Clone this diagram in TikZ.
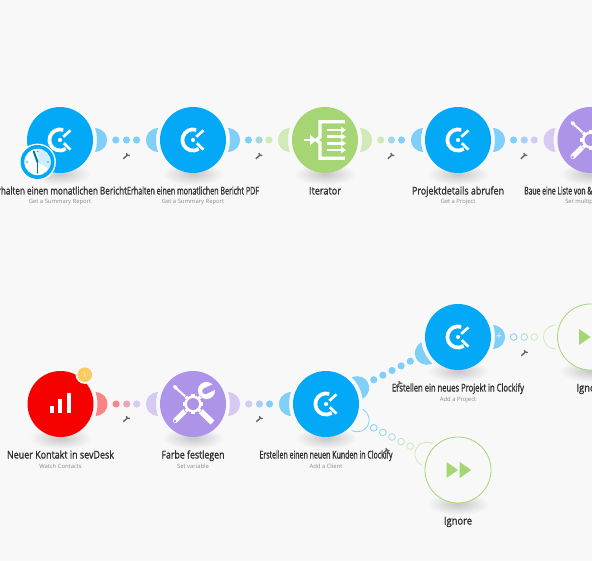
\documentclass[tikz,border=0pt]{standalone}
\usepackage{fontspec}
\setmainfont{Open Sans}
\usetikzlibrary{calc}
\newdimen\pxu \pxu=.75pt
\definecolor{bgc}{HTML}{F8F8F8}
\definecolor{cblue}{HTML}{03A9F6}
\definecolor{hblue}{HTML}{80CFF9}
\definecolor{cpurple}{HTML}{AD94E9}
\definecolor{hpurple}{HTML}{D6CAF3}
\definecolor{cgreen}{HTML}{A6D674}
\definecolor{hgreen}{HTML}{D2E9B9}
\definecolor{cred}{HTML}{F60000}
\definecolor{hred}{HTML}{FA8486}
\definecolor{wrenchc}{HTML}{6A6A6A}
\definecolor{labelc}{HTML}{2E2E2E}
\definecolor{subc}{HTML}{8A8A8A}
\definecolor{badgec}{HTML}{FFCB60}
\newcommand{\lbltxt}[2]{\resizebox{#1\pxu}{\height}{\fontsize{8pt}{9pt}\selectfont\addfontfeatures{FakeBold=1.2}#2}}
\newcommand{\halo}[3]{\begin{scope}[shift={(#1)},rotate=#2]
 \fill[#3] (19:37) .. controls (44,11) and (47,5) .. (47,0) .. controls (47,-5) and (44,-11) .. (-19:37) arc[start angle=-19,end angle=19,radius=37] -- cycle;
\end{scope}}
\newcommand{\halooutline}[3]{\begin{scope}[shift={(#1)},rotate=#2]
 \draw[#3,line width=.6pt] (19:37) .. controls (44,11) and (47,5) .. (47,0) .. controls (47,-5) and (44,-11) .. (-19:37);
\end{scope}}
\newcommand{\shadowat}[1]{\shade[inner color=black!22,outer color=bgc,draw=none] ($(#1)+(0,-34)$) ellipse[x radius=31,y radius=11];}
\tikzset{
 x=.75pt,y=.75pt,
 modnode/.style={circle,minimum size=49.5pt,inner sep=0pt,outer sep=0pt,draw=none},
 linkdot/.style={circle,minimum size=5.4pt,inner sep=0pt,fill=#1},
 ringdot/.style={circle,minimum size=5pt,inner sep=0pt,fill=bgc,draw=#1,line width=.6pt},
 title/.style={inner sep=0pt,text=labelc,anchor=base},
 subtitle/.style={inner sep=0pt,text=subc,font=\fontsize{4.4pt}{5pt}\selectfont,anchor=base},
 clockifyicon/.pic={
  \draw[white,line width=2.8pt] (72:10.6) arc[start angle=72,end angle=303,radius=10.6];
  \draw[white,line width=2pt] (3.2,3.2) -- (10.5,9.6);
  \draw[white,line width=2pt] (3.8,-3.2) -- (10.5,-9.6);
  \fill[white] (0,0) circle[radius=2.1];
 },
 toolsicon/.pic={
  % screwdriver: thin blade with tip at upper left, flat handle at lower right
  \draw[white,line width=1.5pt] (-6,6) -- (-16,15);
  \draw[white,line width=2.6pt,line cap=round] (-16.5,15.5) -- (-18.5,17.5);
  \draw[white,line width=4.2pt] (7,-6.5) -- (19.5,-18.5);
  % wrench: open head at upper right, round handle at lower left
  \draw[white,line width=3.8pt,line cap=round] (-7,-6) -- (-17.5,-16.5);
  \fill[cpurple] (-18,-17) circle[radius=1.3];
  \draw[white,line width=3pt] (5,5) -- (11,11);
  \fill[white] (13.5,13.5) circle[radius=8.6];
  \begin{scope}[shift={(13.5,13.5)},rotate=25]
   \fill[cpurple] (-1.5,-3) rectangle (10,3);
   \fill[cpurple] (-1.5,0) circle[radius=3];
  \end{scope}
  % gear
  \fill[cpurple] (0,0) circle[radius=11];
  \fill[white] (0,0) circle[radius=8.6];
  \foreach \a in {0,45,...,315}{\fill[white,rotate=\a] (-1.7,7) rectangle (1.7,10.4);}
  \fill[cpurple] (0,0) circle[radius=6];
 },
 iteratoricon/.pic={
  \draw[white,line width=2.5pt] (20,18.3) -- (-5,18.3) -- (-5,3) -- (-8.5,0) -- (-5,-3) -- (-5,-18.3) -- (20,-18.3);
  \foreach \yy in {10,3.3,-3.3,-10}{
   \draw[white,line width=2.2pt] (2,\yy) -- (18,\yy);
   \fill[white] (16,\yy+3.3) -- (21,\yy) -- (16,\yy-3.3) -- cycle;
  }
  \draw[white,line width=2pt] (-21,0) -- (-13,0);
  \fill[white] (-15,5.5) -- (-9,0) -- (-15,-5.5) -- cycle;
 },
 sevdeskicon/.pic={
  \fill[white] (-10.7,-9.3) rectangle (-6.7,-1.7);
  \fill[white] (-2.7,-9.3) rectangle (1.3,5);
  \fill[white] (6.3,-9.3) rectangle (10.3,11);
 },
 ignoreicon/.pic={
  \fill[cgreen] (-11.5,8) -- (0,0) -- (-11.5,-8) -- cycle;
  \fill[cgreen] (1.7,8) -- (13.2,0) -- (1.7,-8) -- cycle;
 },
 wrenchicon/.pic={
  \draw[wrenchc,line width=1.1pt] (-3.2,-2.8) -- (1.4,1.4);
  \draw[wrenchc,line width=1pt] (0,3) arc[start angle=170,end angle=300,radius=2.2];
 },
 timericon/.pic={
  \fill[white] (0,0) circle[radius=18.4];
  \fill[cblue] (0,0) circle[radius=17];
  \fill[white] (0,0) circle[radius=13.2];
  \fill[cblue!20] (0,0) -- (0,13.2) arc[start angle=90,end angle=-30,radius=13.2] -- cycle;
  \foreach \a in {0,90,180,270}{\fill[cblue] (\a:10.5) circle[radius=.9];}
  \draw[cblue!70!black,line width=1.5pt,line cap=round] (0,0) -- (-3.8,10.5);
  \draw[cblue!70!black,line width=.7pt,line cap=round] (0,0) -- (0,-11);
 },
}
\begin{document}
\begin{tikzpicture}
\useasboundingbox (0,0) rectangle (592,561);
\fill[bgc] (0,0) rectangle (592,561);
% centre coordinates
\coordinate (pa) at (60,421);
\coordinate (pb) at (193,421);
\coordinate (pc) at (325,421);
\coordinate (pd) at (458,421);
\coordinate (pe) at (590.5,421);
\coordinate (pf) at (60.5,157);
\coordinate (pg) at (193,157);
\coordinate (ph) at (326,157);
\coordinate (pi) at (458,224);
\coordinate (pj) at (590.5,224);
\coordinate (pk) at (458,91);
\foreach \p in {pa,pb,pc,pd,pe,pf,pg,ph,pi,pj,pk}{\shadowat{\p}}
% modules
\node[modnode,fill=cblue] (a) at (pa) {};
\node[modnode,fill=cblue] (b) at (pb) {};
\node[modnode,fill=cgreen] (c) at (pc) {};
\node[modnode,fill=cblue] (d) at (pd) {};
\node[modnode,fill=cpurple] (e) at (pe) {};
\node[modnode,fill=cred] (f) at (pf) {};
\node[modnode,fill=cpurple] (g) at (pg) {};
\node[modnode,fill=cblue] (h) at (ph) {};
\node[modnode,fill=cblue] (i) at (pi) {};
\node[modnode,fill=bgc,draw=cgreen,line width=.6pt] (j) at (pj) {};
\node[modnode,fill=bgc,draw=cgreen,line width=.6pt] (k) at (pk) {};
% halos
\halo{a}{0}{hblue}\halo{b}{180}{hblue}
\halo{b}{0}{hblue}\halo{c}{180}{hgreen}
\halo{c}{0}{hgreen}\halo{d}{180}{hblue}
\halo{d}{0}{hblue}\halo{e}{180}{hpurple}
\halo{f}{0}{hred}\halo{g}{180}{hpurple}
\halo{g}{0}{hpurple}\halo{h}{180}{hblue}
\halo{h}{27}{hblue}\halo{i}{207}{hblue}
\halo{i}{0}{hblue}
\halooutline{j}{180}{hgreen}
\halooutline{h}{-27}{hblue}
\halooutline{k}{153}{hgreen}
\node[font=\fontsize{7pt}{8pt}\selectfont\bfseries,text=white!70!hblue,inner sep=0pt] (plus) at ($(i)+(41,0)$) {+};
% connectors
\path (a) -- node[pos=.34,linkdot=hblue]{} node[pos=.5,linkdot=hblue]{} node[pos=.65,linkdot=hblue]{} (b);
\path (b) -- node[pos=.34,linkdot=hblue]{} node[pos=.5,linkdot=hblue!60!hgreen]{} node[pos=.65,linkdot=hgreen]{} (c);
\path (c) -- node[pos=.34,linkdot=hgreen]{} node[pos=.5,linkdot=hblue!60!hgreen]{} node[pos=.65,linkdot=hblue]{} (d);
\path (d) -- node[pos=.34,linkdot=hblue]{} node[pos=.5,linkdot=hblue!50!hpurple]{} node[pos=.65,linkdot=hpurple]{} (e);
\path (f) -- node[pos=.34,linkdot=hred]{} node[pos=.5,linkdot=hred!50!hpurple]{} node[pos=.65,linkdot=hpurple]{} (g);
\path (g) -- node[pos=.34,linkdot=hpurple]{} node[pos=.5,linkdot=hblue!50!hpurple]{} node[pos=.65,linkdot=hblue]{} (h);
\path (h) -- node[pos=.25,linkdot=hblue]{} node[pos=.375,linkdot=hblue]{} node[pos=.5,linkdot=hblue]{} node[pos=.625,linkdot=hblue]{} node[pos=.75,linkdot=hblue]{} (i);
\path (i) -- node[pos=.34,ringdot=hblue]{} node[pos=.5,ringdot=hblue!50!hgreen]{} node[pos=.65,ringdot=hgreen]{} (j);
\path (h) -- node[pos=.25,ringdot=hblue]{} node[pos=.375,ringdot=hblue!75!hgreen]{} node[pos=.5,ringdot=hblue!50!hgreen]{} node[pos=.625,ringdot=hblue!25!hgreen]{} node[pos=.75,ringdot=hgreen]{} (k);
% icons
\pic at (a) {clockifyicon};
\pic at (b) {clockifyicon};
\pic at (c) {iteratoricon};
\pic at (d) {clockifyicon};
\pic at (e) {toolsicon};
\pic at (f) {sevdeskicon};
\pic at (g) {toolsicon};
\pic at (h) {clockifyicon};
\pic at (i) {clockifyicon};
\pic at (j) {ignoreicon};
\pic at (k) {ignoreicon};
\pic at ($(a)+(-22.5,-22)$) {timericon};
% badge
\fill[bgc] ($(f)+(24.3,29.3)$) circle[radius=9.2];
\node[circle,fill=badgec,minimum size=11pt,inner sep=0pt,text=white,font=\fontsize{5pt}{6pt}\selectfont] (badge) at ($(f)+(24.3,29.3)$) {1};
% labels
\node[title] (ta) at ($(a)+(0,-54.5)$) {\lbltxt{134}{Erhalten einen monatlichen Bericht}};
\node[title] (tb) at ($(b)+(0,-54.5)$) {\lbltxt{132}{Erhalten einen monatlichen Bericht PDF}};
\node[title] (tc) at ($(c)+(0,-54.5)$) {\lbltxt{32}{Iterator}};
\node[title] (td) at ($(d)+(0,-54.5)$) {\lbltxt{92}{Projektdetails abrufen}};
\node[title,anchor=base west] (te) at (524,366.5) {\lbltxt{68}{Baue eine Liste von \&}};
\node[title] (tf) at ($(f)+(0,-54.5)$) {\lbltxt{107}{Neuer Kontakt in sevDesk}};
\node[title] (tg) at ($(g)+(0,-54.5)$) {\lbltxt{63}{Farbe festlegen}};
\node[title] (th) at ($(h)+(0,-54.5)$) {\lbltxt{133}{Erstellen einen neuen Kunden in Clockify}};
\node[title] (ti) at ($(i)+(0,-54.5)$) {\lbltxt{132}{Erstellen ein neues Projekt in Clockify}};
\node[title] (tj) at ($(j)+(0,-54.5)$) {\lbltxt{28}{Ignore}};
\node[title] (tk) at ($(k)+(0,-54.5)$) {\lbltxt{28}{Ignore}};
\node[subtitle] (sa) at ($(a)+(0,-64)$) {Get a Summary Report};
\node[subtitle] (sb) at ($(b)+(0,-64)$) {Get a Summary Report};
\node[subtitle] (sd) at ($(d)+(0,-64)$) {Get a Project};
\node[subtitle,anchor=base west] (se) at (565,357) {Set multiple};
\node[subtitle] (sf) at ($(f)+(0,-64)$) {Watch Contacts};
\node[subtitle] (sg) at ($(g)+(0,-64)$) {Set variable};
\node[subtitle] (sh) at ($(h)+(0,-64)$) {Add a Client};
\node[subtitle] (si) at ($(i)+(0,-64)$) {Add a Project};
% wrenches
\pic at (126.5,405) {wrenchicon};
\pic at (259,405) {wrenchicon};
\pic at (391,405) {wrenchicon};
\pic at (524,405) {wrenchicon};
\pic at (126.5,142) {wrenchicon};
\pic at (259.5,142) {wrenchicon};
\pic at (399,177) {wrenchicon};
\pic at (386,110) {wrenchicon};
\pic at (524.5,208) {wrenchicon};
\end{tikzpicture}
\end{document}
